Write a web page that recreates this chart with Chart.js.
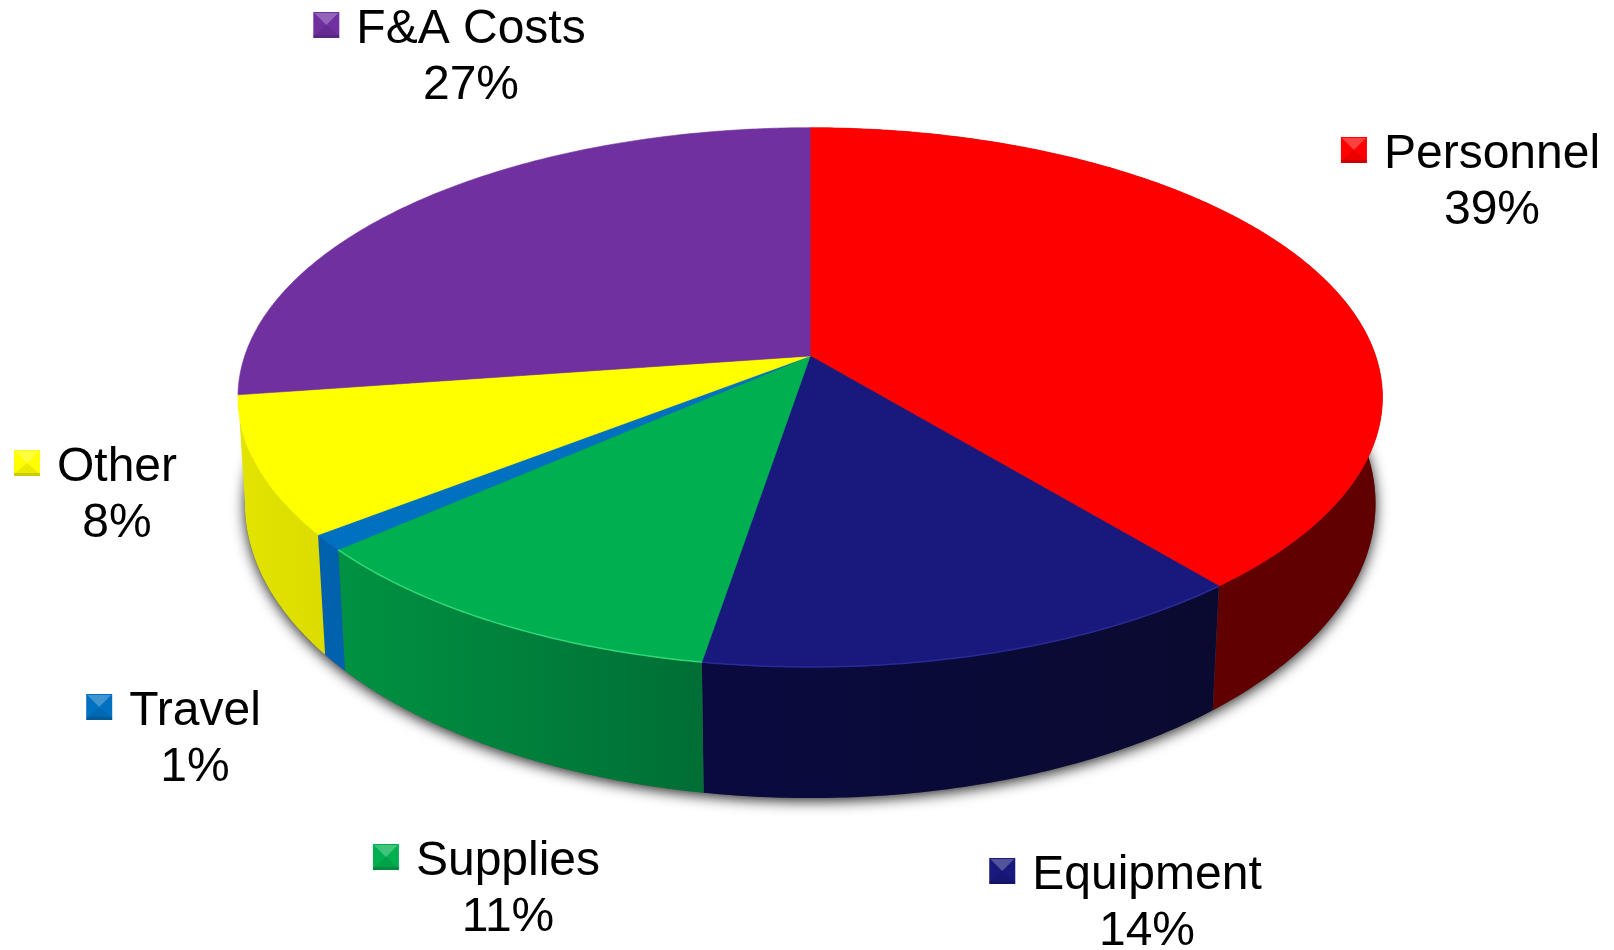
<!DOCTYPE html>
<html>
<head>
<meta charset="utf-8">
<title>Budget breakdown</title>
<script src="https://cdn.jsdelivr.net/npm/chart.js@4"></script>
<style>
  html, body { margin: 0; padding: 0; background: #fff; }
  canvas { display: block; }
</style>
</head>
<body>
<canvas id="pie" width="1614" height="950"></canvas>
<script>
// ── Data ──────────────────────────────────────────────────────
const categories  = ['Personnel', 'Equipment', 'Supplies', 'Travel', 'Other', 'F&A Costs'];
const values      = [39, 13.6, 10.9, 0.95, 8.25, 27.3];   // measured off the slices
const percentText = ['39%', '14%', '11%', '1%', '8%', '27%'];

// ── Colours ───────────────────────────────────────────────────
const topColors  = ['#ff0000', '#19197d', '#00b050', '#0070c0', '#ffff00', '#7030a0'];
const wallLeft   = ['#600000', '#0a0a40', '#009242', '#0062ad', '#e4e400', null];  // F&A wall is out of sight
const wallRight  = ['#600000', '#0a0a30', '#006e35', '#0062ad', '#dcdc00', null];
const rimColors  = [null, '#2a2a96', '#30d878', null, null, null];

// label block: centre of the text and baselines of the two lines
const labelCenterX = [1492, 1147, 508, 195, 117, 471];
const labelBase    = [168, 889, 875, 725, 481, 43];
const LINE_GAP     = 56;
const LABEL_FONT   = '48px "Liberation Sans", Arial, sans-serif';

// ── Perspective of the two disc faces ─────────────────────────
// unit circle -> screen, centre of the pie sits above the middle of the ellipse
const topFace    = { cx: 810.2, cy: 356,   a: 565.5, b: 263.3, k: 0.1533 };
const bottomFace = { cx: 810.2, cy: 459.6, a: 559,   b: 288,   k: 0.149 };

function project(face, angle) {
  const u = Math.cos(angle), v = Math.sin(angle);
  const w = 1 - face.k * v;
  return [face.cx + face.a * u / w, face.cy + face.b * v / w];
}

function arcPoints(face, start, end) {
  const steps = Math.max(2, Math.ceil((end - start) / 0.01));
  const pts = [];
  for (let i = 0; i <= steps; i++) pts.push(project(face, start + (end - start) * i / steps));
  return pts;
}

function tracePoints(ctx, pts, first) {
  pts.forEach((p, i) => {
    if (i === 0 && first) ctx.moveTo(p[0], p[1]);
    else ctx.lineTo(p[0], p[1]);
  });
}

// ── Pie drawn from the library's arc elements ─────────────────
const pie3d = {
  id: 'pie3d',
  beforeDatasetDraw(chart, args) {
    const ctx  = chart.ctx;
    const arcs = args.meta.data;
    ctx.save();

    // soft shadow under the base
    ctx.save();
    ctx.shadowColor = 'rgba(0,0,0,0.85)';
    ctx.shadowBlur = 14;
    ctx.shadowOffsetY = 3;
    ctx.fillStyle = '#555';
    ctx.beginPath();
    tracePoints(ctx, arcPoints(bottomFace, 0, Math.PI * 2), true);
    ctx.closePath();
    ctx.fill();
    ctx.restore();

    // side walls, front part only
    arcs.forEach((arc, i) => {
      if (!wallLeft[i]) return;
      const rimTop = arcPoints(topFace, arc.startAngle, arc.endAngle);
      const rimBot = arcPoints(bottomFace, arc.startAngle, arc.endAngle).reverse();
      const xs = rimTop.map(p => p[0]);
      const grad = ctx.createLinearGradient(Math.min(...xs), 0, Math.max(...xs), 0);
      grad.addColorStop(0, wallLeft[i]);
      grad.addColorStop(1, wallRight[i]);
      ctx.fillStyle = grad;
      ctx.beginPath();
      tracePoints(ctx, rimTop, true);
      tracePoints(ctx, rimBot, false);
      ctx.closePath();
      ctx.fill();
    });

    // top face
    arcs.forEach((arc, i) => {
      ctx.fillStyle = ctx.strokeStyle = topColors[i];
      ctx.lineWidth = 0.6;
      ctx.beginPath();
      ctx.moveTo(topFace.cx, topFace.cy);
      tracePoints(ctx, arcPoints(topFace, arc.startAngle, arc.endAngle), false);
      ctx.closePath();
      ctx.fill();
      ctx.stroke();
    });

    // thin light edge where the face meets the wall
    arcs.forEach((arc, i) => {
      if (!rimColors[i]) return;
      ctx.strokeStyle = rimColors[i];
      ctx.lineWidth = 1.5;
      ctx.beginPath();
      tracePoints(ctx, arcPoints(topFace, arc.startAngle, arc.endAngle), true);
      ctx.stroke();
    });

    ctx.restore();
    return false;
  },

  afterDatasetsDraw(chart) {
    const ctx = chart.ctx;
    ctx.save();
    ctx.font = LABEL_FONT;
    ctx.textAlign = 'center';
    ctx.textBaseline = 'alphabetic';
    categories.forEach((name, i) => {
      const x = labelCenterX[i], y = labelBase[i];
      ctx.fillStyle = '#000';
      ctx.fillText(name, x, y);
      ctx.fillText(percentText[i], x, y + LINE_GAP);
      const textW = ctx.measureText(name).width;
      drawMarker(ctx, x - textW / 2 - 43, y - 31, 26, topColors[i]);
    });
    ctx.restore();
  },
};

// bevelled square in front of each label
function drawMarker(ctx, x, y, size, color) {
  const m = size / 2;
  ctx.fillStyle = color;
  ctx.fillRect(x, y, size, size);
  ctx.fillStyle = 'rgba(255,255,255,0.25)';
  ctx.beginPath();
  ctx.moveTo(x + 1, y + 1); ctx.lineTo(x + size - 1, y + 1); ctx.lineTo(x + m, y + m);
  ctx.closePath(); ctx.fill();
  ctx.fillStyle = 'rgba(0,0,0,0.08)';
  ctx.beginPath();
  ctx.moveTo(x + 1, y + size - 3); ctx.lineTo(x + size - 1, y + size - 3); ctx.lineTo(x + m, y + m);
  ctx.closePath(); ctx.fill();
  ctx.fillStyle = 'rgba(0,0,0,0.2)';
  ctx.fillRect(x, y + size - 3, size, 3);
}

// ── Chart ─────────────────────────────────────────────────────
new Chart(document.getElementById('pie').getContext('2d'), {
  type: 'pie',
  data: {
    labels: categories,
    datasets: [{ data: values, backgroundColor: topColors, borderWidth: 0 }],
  },
  options: {
    responsive: false,
    animation: false,
    plugins: { legend: { display: false }, tooltip: { enabled: false } },
  },
  plugins: [pie3d],
});
</script>
</body>
</html>
